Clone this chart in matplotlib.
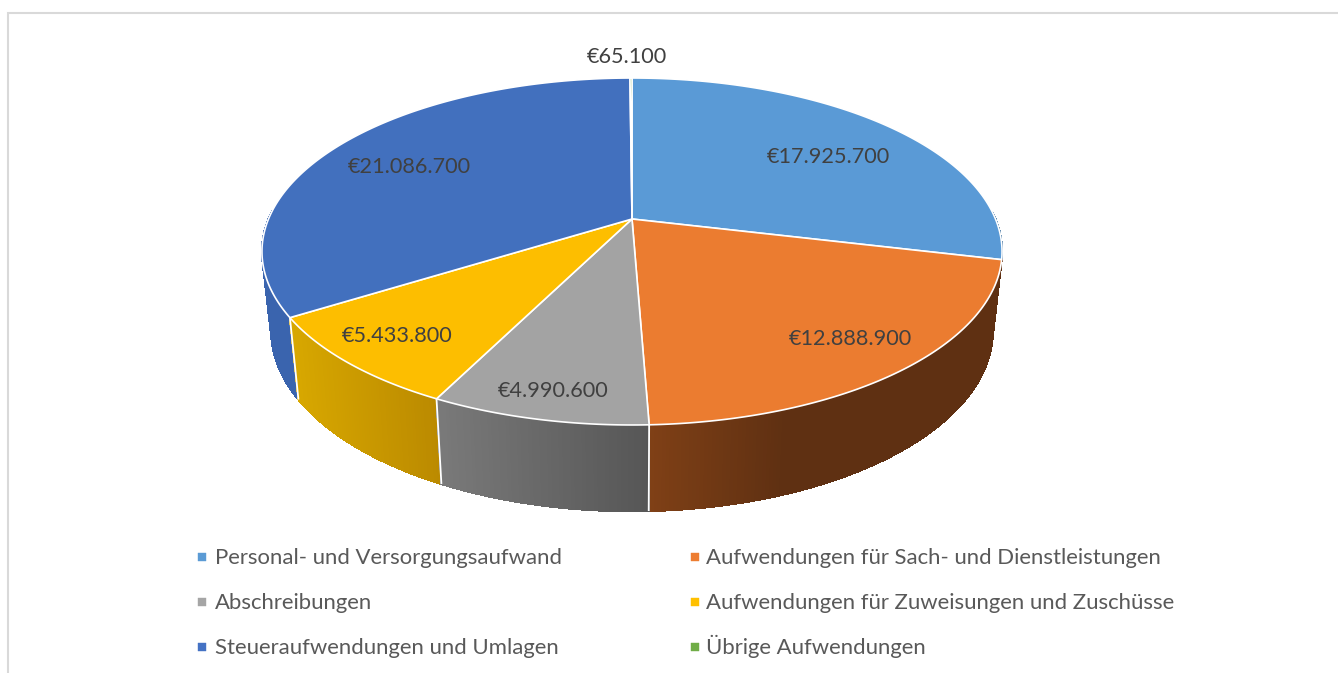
import numpy as np
import matplotlib
matplotlib.use("Agg")
import matplotlib.pyplot as plt
from matplotlib.patches import Polygon, Rectangle
from matplotlib.colors import to_rgb

# ---- data ----
categories = ["Personal- und Versorgungsaufwand", "Aufwendungen für Sach- und Dienstleistungen",
              "Abschreibungen", "Aufwendungen für Zuweisungen und Zuschüsse",
              "Steueraufwendungen und Umlagen", "Übrige Aufwendungen"]
values = [17925700, 12888900, 4990600, 5433800, 21086700, 65100]
value_labels = ["€17.925.700", "€12.888.900", "€4.990.600", "€5.433.800", "€21.086.700", "€65.100"]

# ---- style / layout ----
top_colors = ["#5B9BD5", "#ED7D31", "#A5A5A5", "#FFC000", "#4472C4", "#70AD47"]
face_colors = ["#5A9AD6", "#EB7C30", "#A3A3A3", "#FDBE00", "#4270BE", "#70AD47"]
wall_left = ["#3A6E9E", "#7F4016", "#7A7A7A", "#D8A800", "#3A64AE", "#4E7A32"]
wall_right = ["#3A6E9E", "#5F3012", "#565656", "#BB8A00", "#2F5596", "#4E7A32"]
label_px = [(828, 157), (850, 339), (553, 391), (397, 336), (409, 167), (627, 57)]
LEG_MARK_X = [202, 695]
LEG_TEXT_X = [215, 706]
LEG_MARK_Y = [557, 602, 647]
LEG_BASE_Y = [564, 609, 654]
FONT = "Lato"
CX, CY = 632, 219       # picture position of the pie's centre
A, B, K = 363.5, 167.4, 0.1873   # perspective of the top disc
SX, SY, DROP = 0.975, 1.04, 78   # bottom disc relative to the top disc

fig = plt.figure(figsize=(13.38, 6.73), dpi=100, facecolor="white")
ax = fig.add_axes([0, 0, 1, 1])
ax.set_xlim(0, 1338)
ax.set_ylim(673, 0)
ax.axis("off")


def top_pt(theta):
    x, y = np.sin(theta), np.cos(theta)
    d = 1 + K * y
    return A * x / d, B * y / d


def project(theta, bottom=False):
    X, Y = top_pt(theta)
    if bottom:
        X, Y = SX * X, SY * Y - DROP
    return np.column_stack([CX + X, CY - Y])


ax.add_patch(Rectangle((8, 13), 1340, 680, fc="white", ec="#D9D9D9", lw=1.5))

fractions = np.array(values, dtype=float) / np.sum(values)
edges = np.concatenate([[0], np.cumsum(fractions)]) * 2 * np.pi

# walls, back to front (only the part of the ring that faces the viewer)
strips = []
for i in range(len(values)):
    n = max(2, int(fractions[i] * 720))
    t = np.linspace(edges[i], edges[i + 1], n + 1)
    c0, c1 = np.array(to_rgb(wall_left[i])), np.array(to_rgb(wall_right[i]))
    for j in range(n):
        if np.cos((t[j] + t[j + 1]) / 2) > 0.05:
            continue
        xm = project(np.array([(t[j] + t[j + 1]) / 2]))[0, 0]
        # colour runs left to right across each slice's visible wall
        a = project(np.array([edges[i]]))[0, 0]
        b = project(np.array([edges[i + 1]]))[0, 0]
        f = 0 if a == b else np.clip((xm - min(a, b)) / abs(a - b), 0, 1)
        if i == 1:
            f = min(1, f * 2.6)
        col = c0 + (c1 - c0) * f
        pts = np.vstack([project(t[j:j + 2]), project(t[j:j + 2], True)[::-1]])
        strips.append((pts[:, 1].mean(), pts, col))
for _, pts, col in sorted(strips, key=lambda s: s[0]):
    ax.add_patch(Polygon(pts, closed=True, fc=col, ec=col, lw=0.8, antialiased=False))

# white separators on the visible wall
for k in (2, 3, 4):
    th = np.array([edges[k]])
    p = np.vstack([project(th), project(th, True)])
    ax.plot(p[:, 0], p[:, 1], color="white", lw=1.3, solid_capstyle="butt")

# top faces
for i in range(len(values)):
    n = max(2, int(fractions[i] * 720))
    arc = project(np.linspace(edges[i], edges[i + 1], n + 1))
    pts = np.vstack([[CX, CY], arc])
    ax.add_patch(Polygon(pts, closed=True, fc=face_colors[i], ec="white", lw=1.2, joinstyle="round"))

# value labels
for txt, (px, py) in zip(value_labels, label_px):
    ax.text(px, py, txt, ha="center", va="center", fontsize=15.6, color="#404040", family=FONT)

# legend, read row by row
for i, (name, col) in enumerate(zip(categories, top_colors)):
    row, column = i // 2, i % 2
    ax.plot([LEG_MARK_X[column]], [LEG_MARK_Y[row]], ls="", marker="s", ms=5.8, mfc=col, mec=col, mew=0.3)
    ax.text(LEG_TEXT_X[column], LEG_BASE_Y[row], name, ha="left", va="baseline",
            fontsize=15.9, color="#595959", family=FONT)

fig.savefig("out.png", dpi=100)
